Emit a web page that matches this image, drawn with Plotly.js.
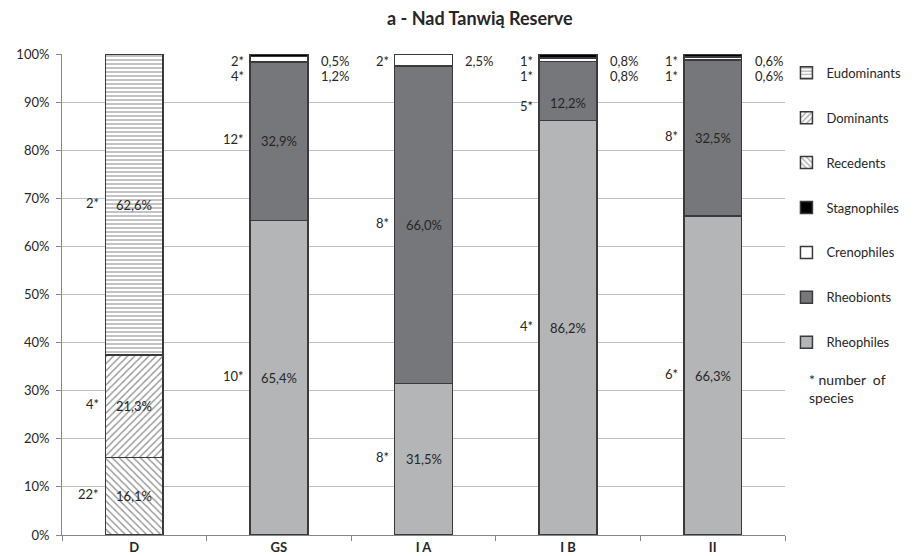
<!DOCTYPE html>
<html>
<head>
<meta charset="utf-8">
<script src="https://cdn.plot.ly/plotly-3.0.1.min.js"></script>
<style>html,body{margin:0;padding:0;background:#fff;}#chart{width:914px;height:556px;}</style>
</head>
<body>
<div id="chart"></div>
<script>
// ---- data ----
var categories = ['D', 'GS', 'I A', 'I B', 'II'];
var recedents    = [16.1, null, null, null, null];
var dominants    = [21.3, null, null, null, null];
var eudominants  = [62.6, null, null, null, null];
var rheophiles   = [null, 65.4, 31.5, 86.2, 66.3];
var rheobionts   = [null, 32.9, 66.0, 12.2, 32.5];
var crenophiles  = [null, 1.2, 2.5, 0.8, 0.6];
var stagnophiles = [null, 0.5, null, 0.8, 0.6];
// number of species
var recedentsN    = [22, null, null, null, null];
var dominantsN    = [4, null, null, null, null];
var eudominantsN  = [2, null, null, null, null];
var rheophilesN   = [null, 10, 8, 4, 6];
var rheobiontsN   = [null, 12, 8, 5, 8];
var crenophilesN  = [null, 4, 2, 1, 1];
var stagnophilesN = [null, 2, null, 1, 1];

var FONT = 'Lato, "Open Sans", sans-serif';
var TXT = '#262626';
var EDGE = '#3a3a3a';

// stacking order bottom -> top
var series = [
  {name: 'Recedents',    y: recedents,    n: recedentsN,    color: '#ffffff', pattern: {shape: '\\', fgcolor: '#8c8c8c', bgcolor: '#ffffff', size: 5, solidity: 0.25}, rank: 3},
  {name: 'Dominants',    y: dominants,    n: dominantsN,    color: '#ffffff', pattern: {shape: '/',  fgcolor: '#8c8c8c', bgcolor: '#ffffff', size: 5, solidity: 0.25}, rank: 2},
  {name: 'Eudominants',  y: eudominants,  n: eudominantsN,  color: '#ffffff', pattern: {shape: '-',  fgcolor: '#9a9a9a', bgcolor: '#ffffff', size: 4, solidity: 0.3}, rank: 1},
  {name: 'Rheophiles',   y: rheophiles,   n: rheophilesN,   color: '#b3b5b7', rank: 7},
  {name: 'Rheobionts',   y: rheobionts,   n: rheobiontsN,   color: '#76777a', rank: 6},
  {name: 'Crenophiles',  y: crenophiles,  n: crenophilesN,  color: '#ffffff', rank: 5, small: true},
  {name: 'Stagnophiles', y: stagnophiles, n: stagnophilesN, color: '#000000', rank: 4, small: true}
];

function fmt(v) { return v.toFixed(1).replace('.', ',') + '%'; }

var traces = series.map(function (s) {
  var marker = {color: s.color, line: {color: EDGE, width: 1.5}};
  if (s.pattern) marker.pattern = s.pattern;
  return {
    type: 'bar', name: s.name, x: categories, y: s.y, width: 0.4,
    marker: marker, legendrank: s.rank, legendgroup: s.name,
    hoverinfo: 'name+y'
  };
});

// label offsets (pixels) for specific labels that were moved in the original
var labelShift = {'I B|Rheobionts': {pct: -12, n: -17}};
var LBL = {family: FONT, size: 13, color: TXT};

var annotations = [];
categories.forEach(function (cat, i) {
  var base = 0;
  var smallOnes = [];
  series.forEach(function (s) {
    var v = s.y[i];
    if (v === null || v === undefined) return;
    if (s.small) { smallOnes.push({s: s, v: v}); base += v; return; }
    var mid = base + v / 2;
    var sh = labelShift[cat + '|' + s.name] || {pct: 0, n: 0};
    annotations.push({x: i, y: mid, xref: 'x', yref: 'y', text: fmt(v), showarrow: false,
      font: LBL, yshift: sh.pct});
    if (s.n[i] !== null) annotations.push({x: i - 0.2, y: mid, xref: 'x', yref: 'y', text: s.n[i] + '*',
      showarrow: false, xanchor: 'right', xshift: -4, font: LBL, yshift: sh.n + 2});
    base += v;
  });
  // small segments labelled outside, in slots from the top
  smallOnes.reverse().forEach(function (o, k) {
    var yy = 100 - 1.5 - 3.0 * k;
    annotations.push({x: i + 0.2, y: yy, xref: 'x', yref: 'y', text: fmt(o.v), showarrow: false,
      xanchor: 'left', xshift: 11, font: LBL});
    if (o.s.n[i] !== null) annotations.push({x: i - 0.2, y: yy, xref: 'x', yref: 'y', text: o.s.n[i] + '*',
      showarrow: false, xanchor: 'right', xshift: -4, font: LBL});
  });
});

annotations.push({xref: 'paper', yref: 'paper', x: 1.03, y: 0.345, xanchor: 'left', yanchor: 'top', align: 'left',
  text: '* number  of<br>species', showarrow: false, font: {family: FONT, size: 14, color: TXT}});

var layout = {
  width: 914, height: 556,
  margin: {l: 62, r: 129, t: 54, b: 21, autoexpand: false},
  paper_bgcolor: '#ffffff', plot_bgcolor: '#ffffff',
  separators: ',.',
  barmode: 'stack',
  showlegend: true,
  title: {text: '<b>a - Nad Tanwią Reserve</b>', x: 0.525, xanchor: 'center', y: 0.966, yanchor: 'middle',
    font: {family: FONT, size: 18, color: TXT}},
  xaxis: {type: 'category', range: [-0.5, 4.5], showline: true, linecolor: '#868686', linewidth: 1,
    ticks: 'outside', tickson: 'boundaries', ticklen: 5, tickcolor: '#868686', ticklabelstandoff: 0,
    tickfont: {family: FONT, size: 13, color: TXT, weight: 'bold'}, showgrid: false, fixedrange: true},
  yaxis: {range: [0, 100], dtick: 10, ticksuffix: '%', showline: true, linecolor: '#868686', linewidth: 1,
    ticks: 'outside', ticklen: 5, tickcolor: '#868686', gridcolor: '#bfbfbf', gridwidth: 1, ticklabelstandoff: 4,
    tickfont: {family: FONT, size: 13, color: TXT}, zeroline: false, fixedrange: true},
  legend: {x: 1.002, xanchor: 'left', y: 0.992, yanchor: 'top', traceorder: 'grouped', tracegroupgap: 25,
    font: {family: FONT, size: 13, color: TXT}, itemwidth: 30, bgcolor: 'rgba(0,0,0,0)'},
  annotations: annotations
};

Plotly.newPlot('chart', traces, layout, {displayModeBar: false, staticPlot: true});
</script>
</body>
</html>
